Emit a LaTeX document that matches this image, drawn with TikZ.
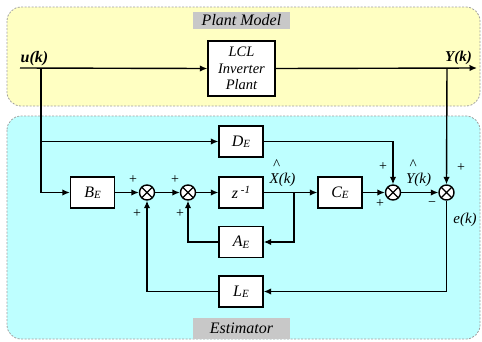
\documentclass[tikz,border=0pt]{standalone}
\usepackage{fontspec}
\setmainfont{Liberation Serif}
\newfontfamily\timesit{Liberation Serif}
\usetikzlibrary{arrows.meta}
\definecolor{yel}{RGB}{255,255,194}
\definecolor{cya}{RGB}{190,255,255}
\definecolor{lblgray}{RGB}{200,200,200}
\definecolor{bordgray}{RGB}{160,160,160}
\newcommand{\subE}[1]{{\itshape #1\raisebox{-0.2ex}{\fontsize{11}{11}\selectfont E}}}
\newcommand{\hatted}[1]{\rlap{\smash{\raisebox{0.97em}{\hspace{0.22em}\^{}}}}#1(k)}
\begin{document}
\begin{tikzpicture}[x=1pt,y=-1pt,
 every node/.style={font=\rmfamily},
 blk/.style={draw, line width=1.4pt, fill=white, minimum width=44pt, minimum height=31pt, inner sep=0pt, font=\timesit\fontsize{16}{18}\selectfont\itshape},
 sumn/.style={circle, draw, line width=1.4pt, fill=white, minimum size=15pt, inner sep=0pt,
   path picture={\draw[line width=1.2pt] (path picture bounding box.north west)--(path picture bounding box.south east) (path picture bounding box.north east)--(path picture bounding box.south west);}},
 ln/.style={line width=1.4pt},
 arr/.style={ln, -{Latex[length=7.5pt,width=6.5pt]}},
 sgn/.style={font=\timesit\fontsize{14}{14}\selectfont, inner sep=0pt},
 lab/.style={font=\timesit\fontsize{15}{15}\selectfont\itshape, inner sep=0pt},
 region/.style={draw=bordgray, line width=0.8pt, dash pattern=on 2pt off 1.5pt, rounded corners=14pt},
 title/.style={fill=lblgray, minimum width=97pt, inner sep=0pt, font=\timesit\fontsize{16}{16}\selectfont\itshape}]
\useasboundingbox (0,0) rectangle (482,341);
% regions
\path[region, fill=yel] (7,7) rectangle (480,106);
\path[region, fill=cya] (7,116) rectangle (480,339);
\node[title, minimum height=17pt] (pm) at (241.5,20.5) {Plant Model};
\node[title, minimum height=21pt] (est) at (241.5,328.5) {Estimator};
% plant row
\coordinate (ustart) at (20,68);
\coordinate (yend) at (477,68);
\coordinate (ubr) at (41,68);
\coordinate (ybr) at (447,68);
\node[blk, minimum width=67pt, minimum height=55pt, align=center, font=\timesit\fontsize{14.5}{16.5}\selectfont\itshape] (plant) at (241.5,68.5) {LCL\\Inverter\\Plant};
\node[lab, font=\timesit\fontsize{16}{16}\selectfont\bfseries\itshape] (ulab) at (34.5,59) {u(k)};
\node[lab, font=\timesit\fontsize{15}{15}\selectfont\bfseries\itshape] (ylab) at (458.5,57.5) {Y(k)};
\draw[arr] (ustart) -- (plant.west);
\draw[arr] (plant.east) -- (yend);
% estimator blocks
\node[blk] (DE) at (241,141.5) {\subE{D}};
\node[blk] (BE) at (92.5,192.5) {\subE{B}};
\node[blk] (z) at (241,192.5) {{\itshape z}\,\raisebox{0.7ex}{\fontsize{11}{11}\selectfont\itshape -1}};
\node[blk] (CE) at (340,192.5) {\subE{C}};
\node[blk] (AE) at (241,242) {\subE{A}};
\node[blk] (LE) at (241,291.5) {\subE{L}};
\node[sumn] (s1) at (147,192.5) {};
\node[sumn] (s2) at (188,192.5) {};
\node[sumn] (s3) at (393,192.5) {};
\node[sumn] (s4) at (446.5,192.5) {};
\coordinate (xbr) at (294,192.5);
% connectors
\draw[arr] (ubr) |- (DE.west);
\draw[arr] (ubr) |- (BE.west);
\draw[arr] (BE) -- (s1);
\draw[arr] (s1) -- (s2);
\draw[arr] (s2) -- (z);
\draw[arr] (z) -- (CE);
\draw[arr] (xbr) |- (AE.east);
\draw[arr] (AE.west) -| (s2.south);
\draw[arr] (CE) -- (s3);
\draw[arr] (DE.east) -| (s3.north);
\draw[arr] (s3) -- (s4);
\draw[arr] (ybr) -- (s4.north);
\draw[arr] (s4.south) |- (LE.east);
\draw[arr] (LE.west) -| (s1.south);
% signs
\node[sgn] (p1a) at (133,180) {+};
\node[sgn] (p1b) at (137,214) {+};
\node[sgn] (p2a) at (175,180) {+};
\node[sgn] (p2b) at (180,214) {+};
\node[sgn] (p3a) at (383,167) {+};
\node[sgn] (p3b) at (380,204) {+};
\node[sgn] (p4a) at (461,168) {+};
\node[sgn] (m4) at (432,204) {\char"2212};
% state labels
\node[lab] (xlab) at (282.5,180) {\hatted{X}};
\node[lab] (yhlab) at (418.5,180) {\hatted{Y}};
\node[lab] (elab) at (465,220) {e(k)};
\end{tikzpicture}
\end{document}
